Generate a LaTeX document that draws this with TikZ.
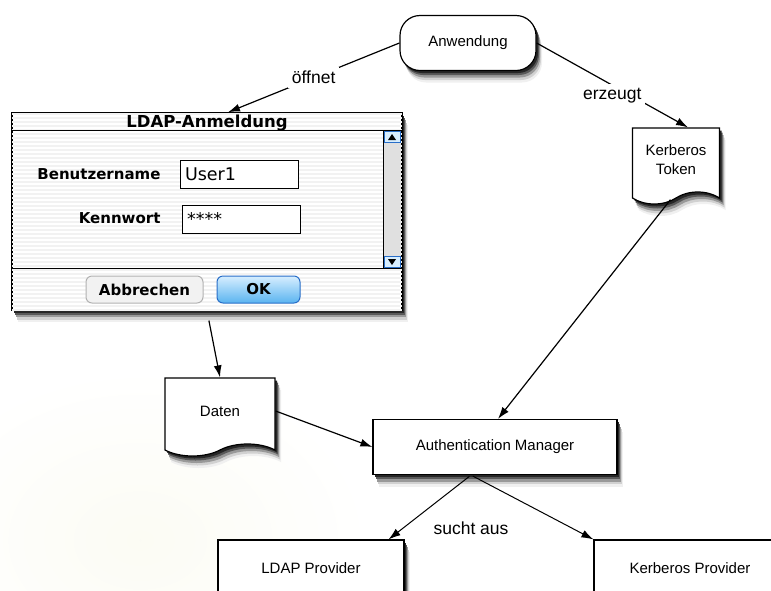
\documentclass[tikz,border=0pt]{standalone}
\usepackage{fontspec}
\setmainfont{Liberation Sans}
\newfontfamily\uifont{DejaVu Sans}
\usetikzlibrary{shapes.symbols,arrows.meta}

\definecolor{okblue}{RGB}{40,110,200}
\definecolor{oktop}{RGB}{215,238,255}
\definecolor{okbot}{RGB}{90,180,240}

% node with a soft shadow below it
\newcommand{\shadowednode}[4]{%
  \node[#1,draw=none,fill=black!6,xshift=6pt,yshift=-12pt] at (#2) {};
  \node[#1,draw=none,fill=black!18,xshift=5pt,yshift=-9.5pt] at (#2) {};
  \node[#1,draw=none,fill=black!40,xshift=4pt,yshift=-7pt] at (#2) {};
  \node[#1,draw=none,fill=black!65,xshift=3pt,yshift=-4.5pt] at (#2) {};
  \node[#1,draw=none,fill=black!85,xshift=2pt,yshift=-2.5pt] at (#2) {};
  \node[#1] (#3) at (#2) {#4};}

\tikzset{
  box/.style={draw,line width=1.2pt,fill=white,font=\fontsize{15}{19}\selectfont,align=center},
  doc/.style={box,tape,tape bend top=none,tape bend bottom=in and out,tape bend height=12pt},
  conn/.style={-{Latex[length=12pt,width=8pt]},line width=1.2pt},
  conlabel/.style={fill=white,font=\fontsize{17.5}{20}\selectfont,inner sep=4pt},
  dlglabel/.style={font=\uifont\bfseries\fontsize{15}{18}\selectfont,anchor=east},
  field/.style={draw,line width=1pt,fill=white,minimum width=118pt,minimum height=28pt,text width=108pt,align=left,font=\uifont\fontsize{17.5}{20}\selectfont,inner sep=0pt},
  button/.style={rounded corners=6pt,minimum height=27pt,font=\uifont\bfseries\fontsize{15}{18}\selectfont}
}

\begin{document}
\begin{tikzpicture}[x=1pt,y=-1pt]
  \useasboundingbox (0,0) rectangle (771,590);
  % faint background
  \shade[inner color=yellow!8!olive!3, outer color=white] (140,540) ellipse (230pt and 170pt);

  % top
  \shadowednode{box,rounded corners=20pt,minimum width=136pt,minimum height=55pt}{468,43}{app}{Anwendung}

  % login dialog
  \shadowednode{draw,line width=1.5pt,fill=white,minimum width=390pt,minimum height=197pt,inner sep=0pt}{207,211.5}{dlg}{}
  \begin{scope}
    \clip (dlg.south west) rectangle (dlg.north east);
    \foreach \y in {114,118,...,310}
      \draw[black!5,line width=1.4pt] (12,\y) -- (402,\y);
  \end{scope}
  \draw[line width=1pt] (12,130) -- (402,130) (12,268) -- (402,268);
  \fill[black!12] (383,131) rectangle (401,267);
  \draw[line width=0.8pt] (383,130) -- (383,268);
  \node[fill=oktop,draw=okblue,line width=1pt,minimum width=16pt,minimum height=11pt,inner sep=0pt] (up) at (392,137) {};
  \fill (388,140) -- (396,140) -- (392,134) -- cycle;
  \node[fill=oktop,draw=okblue,line width=1pt,minimum width=16pt,minimum height=11pt,inner sep=0pt] (down) at (392,262) {};
  \fill (388,259) -- (396,259) -- (392,265) -- cycle;
  \node[font=\uifont\bfseries\fontsize{16.5}{18}\selectfont,inner sep=0pt] (title) at (207,123) {LDAP-Anmeldung};

  \node[dlglabel] (userlbl) at (164,174) {Benutzername};
  \node[field] (user) at (239,174) {User1};
  \node[dlglabel] (pwlbl) at (164,218) {Kennwort};
  \node[field] (pw) at (241,219) {****};

  \node[button,draw=black!30,line width=1pt,fill=black!5,minimum width=117pt] (cancel) at (144.5,289.5) {Abbrechen};
  \node[button,draw=okblue,line width=1pt,top color=oktop,bottom color=okbot,minimum width=83pt] (ok) at (258.5,289.5) {OK};

  % documents and boxes
  \shadowednode{doc,minimum width=87pt,minimum height=76pt}{676,160}{token}{Kerberos\\Token}
  \shadowednode{doc,minimum width=110pt,minimum height=78pt}{220,411}{daten}{Daten}
  \shadowednode{box,minimum width=244pt,minimum height=55pt}{495,447}{am}{Authentication Manager}
  \shadowednode{box,minimum width=186pt,minimum height=56pt}{311,568}{ldap}{LDAP Provider}
  \shadowednode{box,minimum width=192pt,minimum height=56pt}{690,568}{kprov}{Kerberos Provider}

  % connectors
  \draw[conn] (app.west) -- node[conlabel] {öffnet} ([xshift=21pt]dlg.north);
  \draw[conn] (app.east) -- node[conlabel,yshift=-10pt] {erzeugt} ([xshift=12pt]token.north);
  \draw[conn,shorten <=10pt] (dlg.south) -- (daten.north);
  \draw[conn,shorten <=9pt] (token.south) -- ([xshift=3pt]am.north);
  \draw[conn] (daten.east) -- (am.west);
  \draw[conn,line width=1pt,shorten <=2pt] ([xshift=-24pt]am.south) -- ([xshift=-16pt]ldap.north east);
  \draw[conn,line width=1pt,shorten <=2pt] ([xshift=-24pt]am.south) -- (kprov.north west);
  \node[font=\fontsize{17.5}{20}\selectfont] (choose) at (471,528) {sucht aus};
\end{tikzpicture}
\end{document}
